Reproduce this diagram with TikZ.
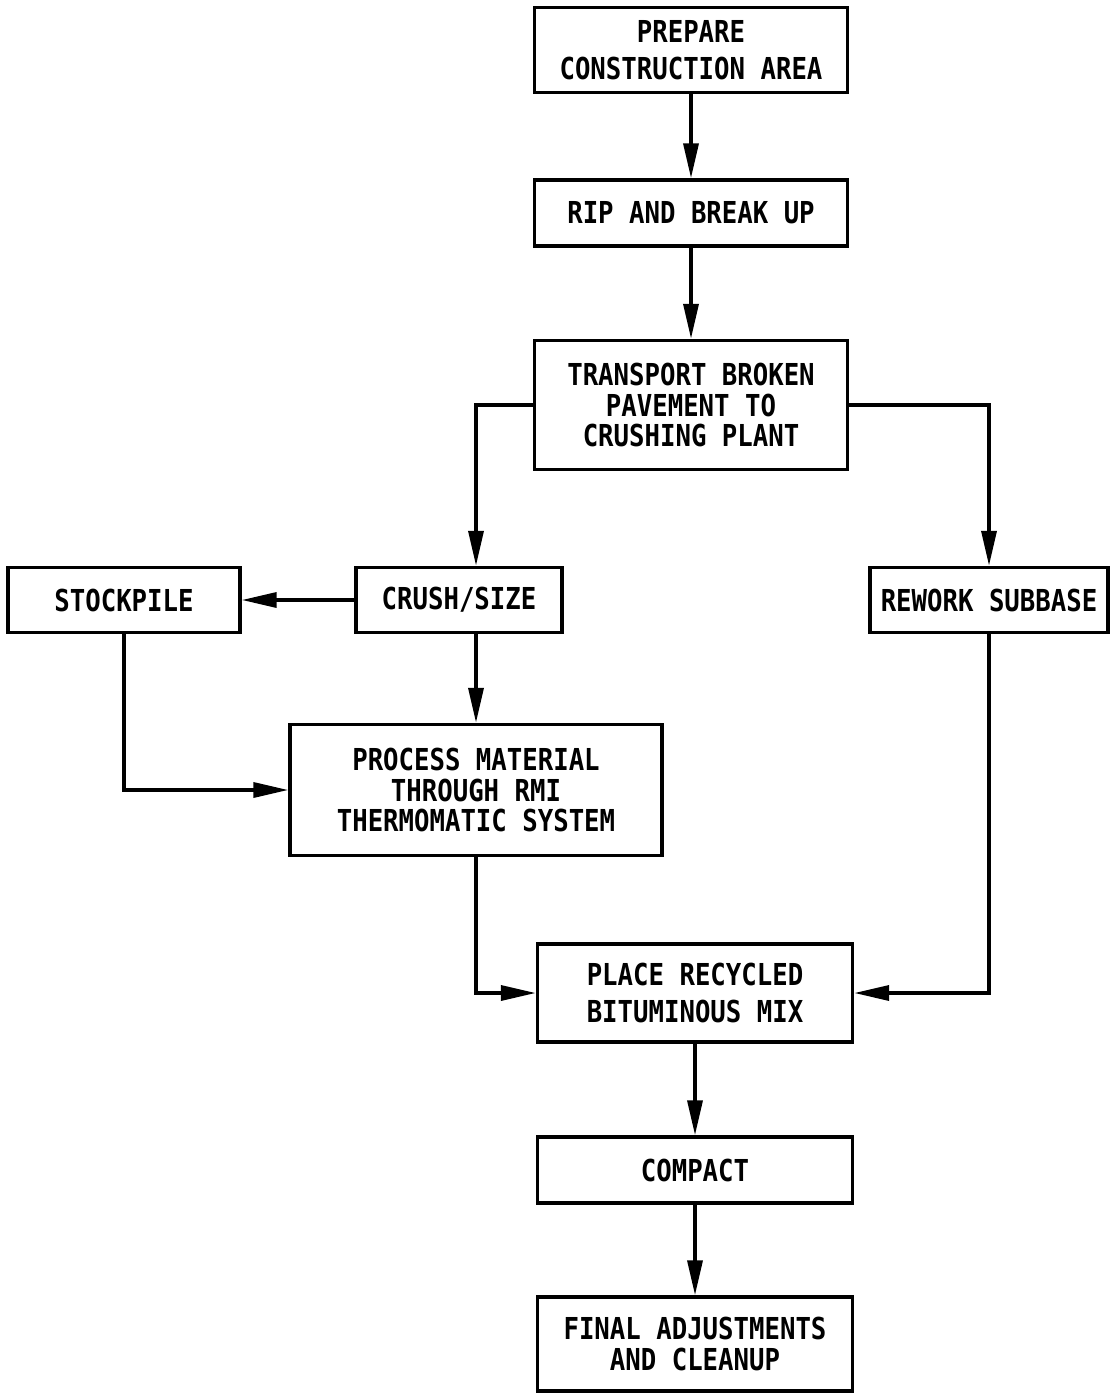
\documentclass[tikz,border=0pt]{standalone}
\usepackage{fontspec}
\newfontfamily\lettering[FakeStretch=0.85]{DejaVu Sans Mono Bold}
\usetikzlibrary{arrows.meta}
\tikzset{
  stage/.style={draw, line width=2pt, align=center, inner sep=0pt,
    font=\lettering\fontsize{17.2}{17.6}\selectfont},
  loose/.style={font=\lettering\fontsize{17.2}{21}\selectfont},
  flow/.style={line width=2pt, -{Triangle[length=7mm,width=3mm]}}
}

\begin{document}
\begin{tikzpicture}[x=0.02cm, y=-0.02cm]
  \useasboundingbox (0,0) rectangle (1115,1395);
  \node[stage, loose, minimum width=6.26cm, minimum height=1.7cm] (prep) at (691,50) {PREPARE\\CONSTRUCTION AREA};
  \node[stage, minimum width=6.26cm, minimum height=1.32cm] (rip) at (691,213) {RIP AND BREAK UP};
  \node[stage, minimum width=6.26cm, minimum height=2.58cm] (trans) at (691,405) {TRANSPORT BROKEN\\PAVEMENT TO\\CRUSHING PLANT};
  \node[stage, minimum width=4.12cm, minimum height=1.3cm] (crush) at (459,600) {CRUSH/SIZE};
  \node[stage, minimum width=4.64cm, minimum height=1.3cm] (stock) at (124,600) {STOCKPILE};
  \node[stage, minimum width=4.76cm, minimum height=1.3cm] (rework) at (989,600) {REWORK SUBBASE};
  \node[stage, minimum width=7.44cm, minimum height=2.62cm] (proc) at (476,790) {PROCESS MATERIAL\\THROUGH RMI\\THERMOMATIC SYSTEM};
  \node[stage, loose, minimum width=6.3cm, minimum height=1.96cm] (place) at (695,993) {PLACE RECYCLED\\BITUMINOUS MIX};
  \node[stage, minimum width=6.3cm, minimum height=1.32cm] (compact) at (695,1170) {COMPACT};
  \node[stage, minimum width=6.3cm, minimum height=1.88cm] (final) at (695,1344) {FINAL ADJUSTMENTS\\AND CLEANUP};

  \draw[flow] (prep) -- (rip);
  \draw[flow] (rip) -- (trans);
  \draw[flow] (trans.west) -| (crush.north -| proc.north);
  \draw[flow] (trans.east) -| (rework.north);
  \draw[flow] (crush.west) -- (stock.east);
  \draw[flow] (crush.south -| proc.north) -- (proc.north);
  \draw[flow] (stock.south) |- (proc.west);
  \draw[flow] (proc.south) |- (place.west);
  \draw[flow] (rework.south) |- (place.east);
  \draw[flow] (place) -- (compact);
  \draw[flow] (compact) -- (final);
\end{tikzpicture}
\end{document}
